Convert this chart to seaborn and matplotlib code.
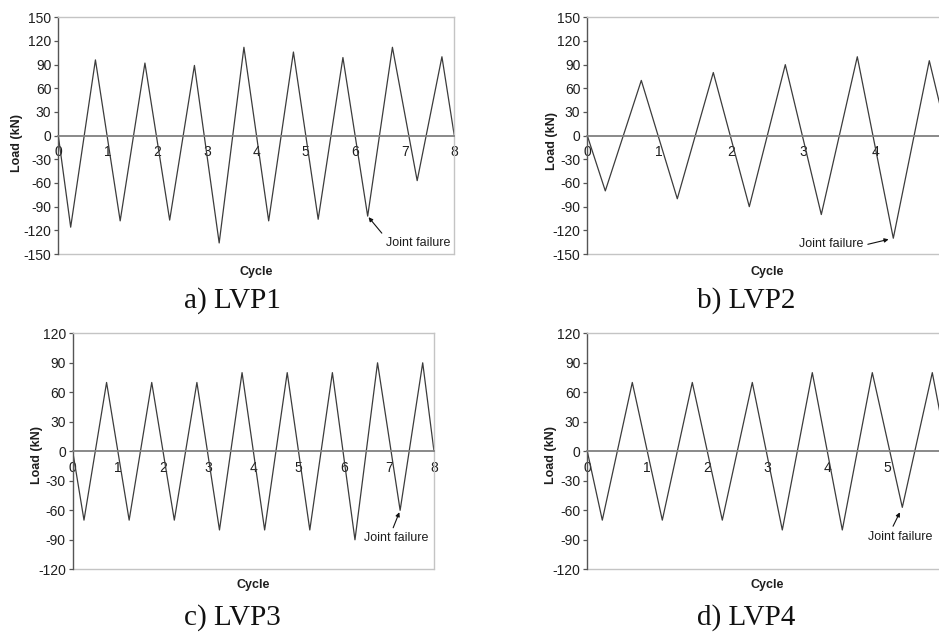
import matplotlib
matplotlib.use("Agg")
import matplotlib.pyplot as plt
import seaborn as sns
import pandas as pd

# ---------------- data ----------------
cycle_a = [0, 0.25, 0.75, 1.25, 1.75, 2.25, 2.75, 3.25, 3.75, 4.25, 4.75, 5.25, 5.75, 6.25, 6.75, 7.25, 7.75, 8]
load_a = [0, -116, 96, -108, 92, -107, 89, -136, 112, -108, 106, -106, 99, -102, 112, -57, 100, 0]

cycle_b = [0, 0.25, 0.75, 1.25, 1.75, 2.25, 2.75, 3.25, 3.75, 4.25, 4.75, 5]
load_b = [0, -70, 70, -80, 80, -90, 90, -100, 100, -130, 95, 0]

cycle_c = [0, 0.25, 0.75, 1.25, 1.75, 2.25, 2.75, 3.25, 3.75, 4.25, 4.75, 5.25, 5.75, 6.25, 6.75, 7.25, 7.75, 8]
load_c = [0, -70, 70, -70, 70, -70, 70, -80, 80, -80, 80, -80, 80, -90, 90, -60, 90, 0]

cycle_d = [0, 0.25, 0.75, 1.25, 1.75, 2.25, 2.75, 3.25, 3.75, 4.25, 4.75, 5.25, 5.75, 6]
load_d = [0, -70, 70, -70, 70, -70, 70, -80, 80, -80, 80, -57, 80, 0]

captions = ["a) LVP1", "b) LVP2", "c) LVP3", "d) LVP4"]
yticks_top = [-150, -120, -90, -60, -30, 0, 30, 60, 90, 120, 150]
yticks_bot = [-120, -90, -60, -30, 0, 30, 60, 90, 120]
xticks_a = [0, 1, 2, 3, 4, 5, 6, 7, 8]
xticks_b = [0, 1, 2, 3, 4]
xticks_c = [0, 1, 2, 3, 4, 5, 6, 7, 8]
xticks_d = [0, 1, 2, 3, 4, 5]

# failure points (cycle, load) and label positions
fail_a = (6.25, -102); fail_text_a = (7.27, -136)
fail_b = (4.25, -130); fail_text_b = (3.385, -137.6)
fail_c = (7.25, -60); fail_text_c = (7.17, -88.5)
fail_d = (5.25, -57); fail_text_d = (5.22, -86.9)

# ---------------- style ----------------
sns.set_style("white")
plt.rcParams["font.family"] = ["Liberation Sans", "DejaVu Sans"]

W, H = 939, 632
fig = plt.figure(figsize=(W / 100, H / 100), dpi=100)

def px_axes(left, top, right, bottom):
    return fig.add_axes([left / W, 1 - bottom / H, (right - left) / W, (bottom - top) / H])

line_col = "#3c3c3c"
txt_col = "#1e1e1e"

panels = [
    dict(cyc=cycle_a, load=load_a, box=(58.3, 17.3, 454.3, 254.0), xlim=8, xt=xticks_a, yt=yticks_top,
         fail=fail_a, ftxt=fail_text_a, relpos=(0.0, 0.9), shrinkB=1.0,
         ylab=(-0.105, 0.469), xlab_y=-0.076, cap=captions[0], capxy=(232, 308)),
    dict(cyc=cycle_b, load=load_b, box=(587.3, 17.3, 947.3, 254.0), xlim=5, xt=xticks_b, yt=yticks_top,
         fail=fail_b, ftxt=fail_text_b, relpos=(1.0, 0.4), shrinkB=3.5,
         ylab=(-0.099, 0.477), xlab_y=-0.076, cap=captions[1], capxy=(746, 308)),
    dict(cyc=cycle_c, load=load_c, box=(72.7, 333.3, 434.0, 569.3), xlim=8, xt=xticks_c, yt=yticks_bot,
         fail=fail_c, ftxt=fail_text_c, relpos=(0.42, 1.0), shrinkB=1.5,
         ylab=(-0.0997, 0.484), xlab_y=-0.0665, cap=captions[2], capxy=(232, 625)),
    dict(cyc=cycle_d, load=load_d, box=(587.3, 333.3, 947.3, 569.3), xlim=6, xt=xticks_d, yt=yticks_bot,
         fail=fail_d, ftxt=fail_text_d, relpos=(0.35, 1.0), shrinkB=4.0,
         ylab=(-0.101, 0.484), xlab_y=-0.0665, cap=captions[3], capxy=(746, 625)),
]

for p in panels:
    ax = px_axes(*p["box"])
    df = pd.DataFrame({"Cycle": p["cyc"], "Load": p["load"]})
    sns.lineplot(data=df, x="Cycle", y="Load", ax=ax, color=line_col, lw=0.9,
                 sort=False, estimator=None)
    ymin, ymax = p["yt"][0], p["yt"][-1]
    ax.set_xlim(0, p["xlim"])
    ax.set_ylim(ymin, ymax)
    ax.set_yticks(p["yt"])
    ax.set_yticklabels([str(v) for v in p["yt"]])
    ax.set_xticks(p["xt"])
    ax.set_xticklabels([str(v) for v in p["xt"]])

    # spines
    ax.spines["left"].set_color("#555555")
    ax.spines["left"].set_linewidth(1.0)
    for s in ("top", "right"):
        ax.spines[s].set_color("#c4c4c4")
        ax.spines[s].set_linewidth(1.0)
    ax.spines["bottom"].set_position(("data", 0))
    ax.spines["bottom"].set_color("#808080")
    ax.spines["bottom"].set_linewidth(1.3)
    ax.axhline(ymin, color="#c4c4c4", lw=1.0, clip_on=False, zorder=0)

    ax.tick_params(axis="y", direction="out", length=3, width=0.9, color="#555555",
                   labelsize=10, labelcolor=txt_col, pad=2, left=True)
    ax.tick_params(axis="x", length=0, labelsize=10, labelcolor=txt_col, pad=7, bottom=True)

    ax.set_ylabel("Load (kN)", fontsize=9, fontweight="bold", color=txt_col, va="center")
    ax.yaxis.set_label_coords(*p["ylab"])
    ax.set_xlabel("Cycle", fontsize=9, fontweight="bold", color=txt_col, va="center")
    ax.xaxis.set_label_coords(0.5, p["xlab_y"])

    ax.annotate("Joint failure", xy=p["fail"], xytext=p["ftxt"], ha="center", va="center",
                fontsize=9, color=txt_col,
                arrowprops=dict(arrowstyle="-|>", color="#111111", lw=0.8, mutation_scale=6,
                                relpos=p["relpos"], shrinkA=1, shrinkB=p["shrinkB"]))

    fig.text(p["capxy"][0] / W, 1 - p["capxy"][1] / H, p["cap"], ha="center", va="baseline",
             fontsize=21, family=["Liberation Serif", "DejaVu Serif"], color="#111111")

fig.savefig("out.png", dpi=100, facecolor="white")
